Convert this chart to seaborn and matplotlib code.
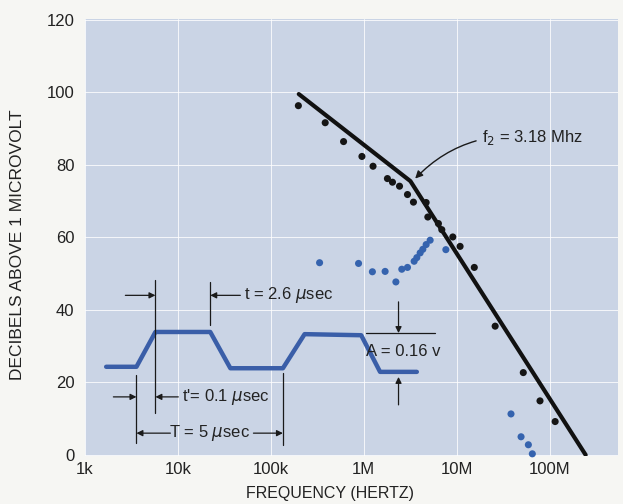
import numpy as np
import matplotlib
matplotlib.use('Agg')
import matplotlib.pyplot as plt
import seaborn as sns

# measured points (black) - interference level in dB above 1 microvolt
black_freq = [1.98e5, 3.85e5, 6.07e5, 9.57e5, 1.26e6, 1.80e6, 2.04e6, 2.43e6, 2.96e6, 3.43e6,
              4.70e6, 4.90e6, 6.37e6, 6.93e6, 9.1e6, 1.09e7, 1.55e7, 2.6e7, 5.22e7, 7.9e7, 1.15e8]
black_db = [96.3, 91.6, 86.4, 82.3, 79.6, 76.2, 75.2, 74.1, 71.8, 69.7,
            69.6, 65.6, 63.8, 62.1, 60.1, 57.5, 51.7, 35.5, 22.7, 14.9, 9.2]

# measured points (blue)
blue_freq = [3.35e5, 8.8e5, 1.24e6, 1.70e6, 2.22e6, 2.57e6, 2.96e6, 3.49e6, 3.73e6, 4.05e6,
             4.33e6, 4.70e6, 5.19e6, 7.66e6, 3.85e7, 4.94e7, 5.92e7, 6.53e7]
blue_db = [53.0, 52.8, 50.5, 50.6, 47.7, 51.2, 51.7, 53.4, 54.4, 55.7,
           56.7, 58.0, 59.2, 56.6, 11.3, 5.0, 2.8, 0.3]

# asymptote: -20 dB/decade up to f2, then -40 dB/decade
f2 = 3.18e6
line_freq = [2.0e5, f2, 2.45e8]
line_db = [99.5, 75.5, 0]

# trapezoidal pulse sketch
pulse_freq = [1.69e3, 3.58e3, 5.73e3, 2.23e4, 3.67e4, 1.35e5, 2.31e5, 9.4e5, 1.50e6, 3.73e6]
pulse_db = [24.3, 24.3, 33.9, 33.9, 23.9, 23.9, 33.3, 33.0, 22.9, 22.9]

yticks = [0, 20, 40, 60, 80, 100, 120]
xticks = [1e3, 1e4, 1e5, 1e6, 1e7, 1e8]
xtick_labels = ['1k', '10k', '100k', '1M', '10M', '100M']

sns.set_style('white')
plt.rcParams['font.family'] = ['Liberation Sans', 'DejaVu Sans']

fig = plt.figure(figsize=(6.23, 5.04), dpi=100, facecolor='#f6f6f3')
ax = fig.add_axes([85 / 623, 48 / 504, 533 / 623, 437 / 504])
ax.set_facecolor('#cad4e5')

sns.lineplot(x=line_freq, y=line_db, ax=ax, color='#111111', lw=3, sort=False, estimator=None)
sns.lineplot(x=pulse_freq, y=pulse_db, ax=ax, color='#3a5ea8', lw=3.2, sort=False, estimator=None)
sns.scatterplot(x=black_freq, y=black_db, ax=ax, color='#151515', s=26, edgecolor='none', zorder=3)
sns.scatterplot(x=blue_freq, y=blue_db, ax=ax, color='#3563ae', s=26, edgecolor='none', zorder=3,
                clip_on=False)

ax.set_xscale('log')
ax.set_xlim(1e3, 5.46e8)
ax.set_ylim(-0.3, 120.2)
ax.set_xticks(xticks)
ax.set_xticklabels(xtick_labels)
ax.set_yticks(yticks)
ax.minorticks_off()
ax.xaxis.get_major_ticks()[0].tick1line.set_visible(False)
ax.tick_params(axis='y', direction='inout', length=11, width=1.8, pad=2, labelsize=12, colors='#222222')
ax.tick_params(axis='x', direction='in', length=8, width=1.2, pad=4, labelsize=12, colors='#222222')
ax.grid(True, color='white', lw=0.7, alpha=0.8)
for s in ax.spines.values():
    s.set_visible(False)

ax.set_xlabel('FREQUENCY (HERTZ)', fontsize=11.5, color='#222222')
ax.set_ylabel('DECIBELS ABOVE 1 MICROVOLT', fontsize=12.5, color='#222222')
ax.xaxis.set_label_coords(0.46, -0.068)
ax.yaxis.set_label_coords(-0.112, 0.483)

# pulse dimension annotations
thin = dict(color='#1a1a1a', lw=0.9)
arr = dict(arrowstyle='-|>', color='#1a1a1a', lw=0.9, mutation_scale=9, shrinkA=0, shrinkB=0)
ax.plot([pulse_freq[2]] * 2, [48.2, 11.6], **thin)
ax.plot([pulse_freq[3]] * 2, [47.6, 35.8], **thin)
ax.plot([pulse_freq[1]] * 2, [22.0, 3.3], **thin)
ax.plot([pulse_freq[5]] * 2, [22.6, 2.8], **thin)

ax.annotate('', xy=(pulse_freq[2], 44), xytext=(2.72e3, 44), arrowprops=arr)
ax.annotate('', xy=(pulse_freq[3], 44), xytext=(4.7e4, 44), arrowprops=arr)
ax.text(5.2e4, 44, 't = 2.6 $\\mu$sec', fontsize=12, va='center', color='#222222')

ax.annotate('', xy=(pulse_freq[1], 16), xytext=(2.02e3, 16), arrowprops=arr)
ax.annotate('', xy=(pulse_freq[2], 16), xytext=(1.01e4, 16), arrowprops=arr)
ax.text(1.12e4, 16, "t'= 0.1 $\\mu$sec", fontsize=12, va='center', color='#222222')

ax.annotate('', xy=(pulse_freq[1], 6), xytext=(8.3e3, 6), arrowprops=arr)
ax.annotate('', xy=(pulse_freq[5], 6), xytext=(6.5e4, 6), arrowprops=arr)
ax.text(2.2e4, 6, 'T = 5 $\\mu$sec', fontsize=12, va='center', ha='center', color='#222222')

ax.plot([1.06e6, 5.88e6], [33.6, 33.6], **thin)
ax.annotate('', xy=(2.37e6, 33.6), xytext=(2.37e6, 42.2), arrowprops=arr)
ax.annotate('', xy=(2.37e6, 21.5), xytext=(2.37e6, 13.8), arrowprops=arr)
ax.text(1.06e6, 28.6, 'A = 0.16 v', fontsize=12, va='center', color='#222222')

ax.annotate('f$_2$ = 3.18 Mhz', xy=(3.58e6, 76.2), xytext=(1.88e7, 87.6), fontsize=12,
            va='center', color='#222222',
            arrowprops=dict(arrowstyle='-|>', color='#1a1a1a', lw=1.0, mutation_scale=11,
                            shrinkA=2, shrinkB=0, connectionstyle='arc3,rad=0.25'))

fig.savefig('out.png', dpi=100, facecolor=fig.get_facecolor())
